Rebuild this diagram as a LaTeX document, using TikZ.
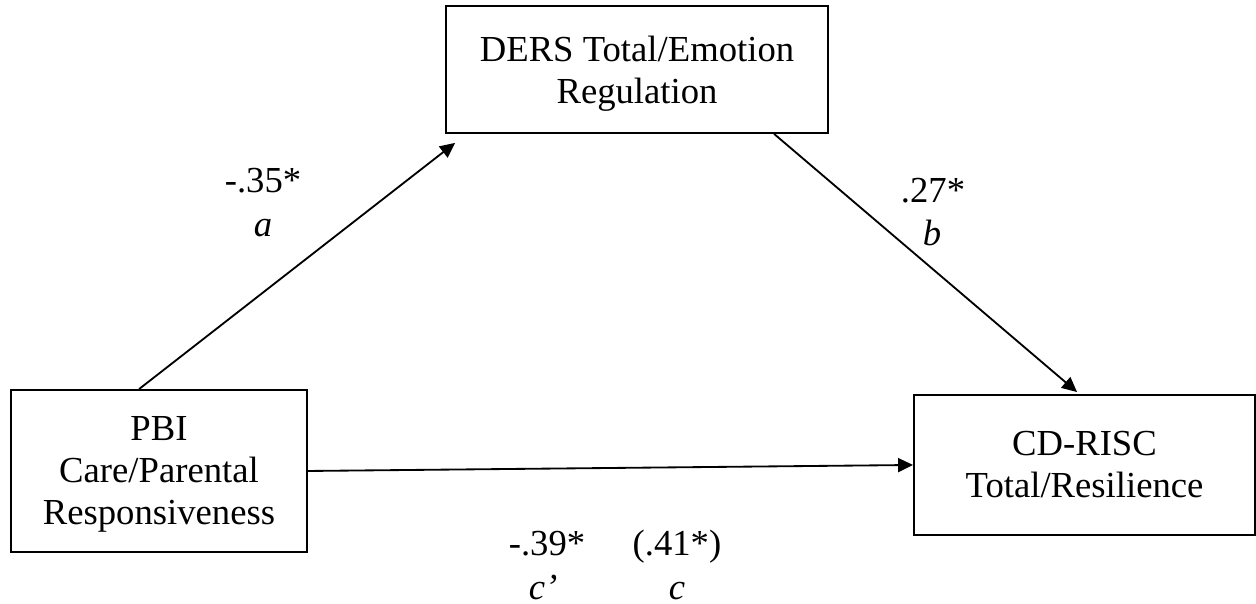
\documentclass[tikz,border=0pt]{standalone}
\usepackage{fontspec}
\setmainfont{Liberation Serif}
\usepackage{tikz}
\usetikzlibrary{calc}
\usetikzlibrary{arrows.meta}
\usetikzlibrary{positioning}

\begin{document}
\begin{tikzpicture}[
    x=0.3pt, y=-0.3pt,
    var/.style={draw=black, line width=0.55pt, inner sep=0pt, align=center, font=\fontsize{11}{12.6}\selectfont},
    effect/.style={-{Triangle[length=4.5pt, width=4.2pt]}, line width=0.55pt},
    coef/.style={anchor=base, inner sep=0pt, font=\fontsize{11}{13}\selectfont}
]

    % Cornice della figura (in pixel)
    \useasboundingbox (0,0) rectangle (1256,604);

    % 1. Disegno le tre variabili (nodi)
    \node[var, minimum width=114.6pt, minimum height=38.1pt, text depth=0pt] (ders) at (637,69.5) {DERS Total/Emotion\\Regulation};
    \node[var, minimum width=88.8pt, minimum height=48.6pt, text depth=-1.2pt] (pbi) at (159,471) {PBI\\Care/Parental\\Responsiveness};
    \node[var, minimum width=102.3pt, minimum height=42pt] (cdrisc) at (1084.5,465) {CD-RISC\\Total/Resilience};

    % 2. Disegno i percorsi
    \draw[effect] ($(pbi.north west)+(129,0)$) -- ($(ders.south west)+(10,9)$);
    \draw[effect] ($(ders.south west)+(329,0)$) -- ($(cdrisc.north west)+(164,-2)$);
    \draw[effect] (pbi.east) -- (cdrisc.west);

    % 3. Coefficienti dei percorsi
    \node[coef] (a1) at (263,193) {-.35*};
    \node[coef] (a2) at (263,237) {\textit{a}};
    \node[coef] (b1) at (933,203) {.27*};
    \node[coef] (b2) at (932,246) {\textit{b}};
    \node[coef] (c1) at (547,556) {-.39*};
    \node[coef] (c2) at (543,600) {\textit{c’}};
    \node[coef] (c3) at (677,556) {(.41*)};
    \node[coef] (c4) at (677,600) {\textit{c}};

\end{tikzpicture}
\end{document}
